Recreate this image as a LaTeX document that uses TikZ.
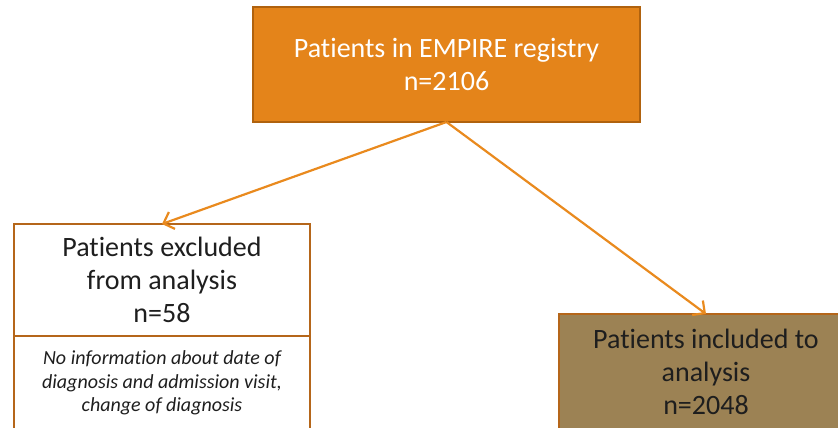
\documentclass[tikz,border=0pt]{standalone}
\usepackage{fontspec}
\setmainfont{Carlito}[Ligatures={NoCommon}]
\usetikzlibrary{arrows.meta}
\definecolor{boxorange}{HTML}{E4841A}
\definecolor{boxedge}{HTML}{B5661A}
\definecolor{topedge}{HTML}{B0620E}
\definecolor{arroworange}{HTML}{E98A1E}
\definecolor{boxbrown}{HTML}{9C8254}
\definecolor{textdark}{HTML}{1E1E1E}

\begin{document}
\begin{tikzpicture}[x=1pt,y=1pt,
  box/.style={draw=boxedge, line width=2.5pt, align=center, inner sep=0pt, outer sep=0pt,
    text=textdark, minimum width=296pt, font=\fontsize{28}{33}\selectfont},
  link/.style={arroworange, line width=2.2pt, -{Straight Barb[length=9pt,width=18pt]}}]

\useasboundingbox (0,0) rectangle (838,-428);
\clip (0,0) rectangle (838,-428);

\node[box, draw=topedge, fill=boxorange, text=white, minimum width=387pt, minimum height=115pt] (v0) at (446.5,-64.5) {Patients in EMPIRE registry\\n=2106};

\node[box, minimum height=112pt] (v1) at (162,-280) {Patients excluded\\from analysis\\n=58};
\node[box, minimum height=94pt, anchor=north, font=\fontsize{20}{23.5}\selectfont\itshape] (v2) at (v1.south) {No information about date of\\diagnosis and admission visit,\\change of diagnosis};

\node[box, fill=boxbrown, minimum width=294pt, minimum height=116pt] (v3) at (706,-372) {Patients included to\\analysis\\n=2048};

\draw[link] (v0.south) -- (v1.north);
\draw[link] (v0.south) -- (v3.north);

\end{tikzpicture}
\end{document}
